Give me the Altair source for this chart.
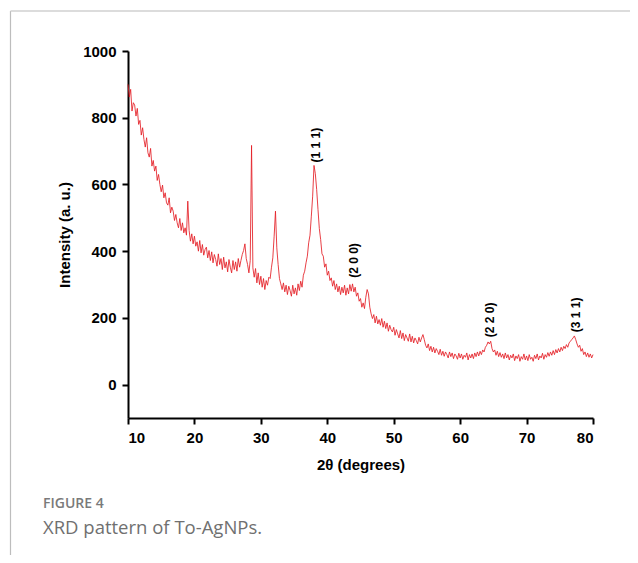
import altair as alt
import pandas as pd

# 2-theta sampling: 10.0 .. 80.0 in 0.2 degree steps
start_deg = 10.0
step_deg = 0.2

seg_10_20 = [900, 862, 885, 820, 845, 838, 805, 828, 780, 792,
             748, 770, 735, 712, 740, 695, 682, 708, 655, 672,
             640, 655, 612, 630, 600, 578, 598, 560, 575, 545,
             538, 560, 515, 532, 520, 492, 510, 485, 470, 498,
             462, 485, 455, 470, 448, 550, 462, 430, 452, 422]
seg_20_30 = [445, 415, 428, 400, 432, 395, 420, 388, 405, 412,
             380, 402, 372, 398, 365, 390, 375, 355, 392, 360,
             378, 345, 382, 350, 368, 338, 375, 352, 335, 372,
             345, 368, 340, 378, 352, 372, 390, 402, 422, 378,
             360, 335, 372, 717, 350, 322, 348, 305, 335, 300]
seg_30_40 = [325, 292, 318, 285, 312, 298, 322, 318, 352, 380,
             445, 520, 410, 360, 318, 302, 285, 305, 278, 298,
             270, 295, 282, 265, 298, 272, 290, 268, 302, 282,
             310, 292, 328, 340, 365, 385, 425, 448, 505, 565,
             657, 632, 585, 525, 468, 435, 392, 385, 352, 362]
seg_40_50 = [328, 340, 312, 320, 295, 312, 285, 302, 278, 295,
             270, 292, 275, 298, 268, 290, 272, 300, 280, 302,
             278, 292, 265, 275, 250, 258, 232, 245, 228, 262,
             285, 272, 232, 212, 198, 210, 185, 205, 182, 195,
             178, 198, 172, 190, 168, 185, 160, 178, 165, 158]
seg_50_60 = [172, 148, 165, 152, 140, 162, 138, 155, 132, 150,
             140, 130, 152, 128, 145, 125, 140, 132, 122, 142,
             128, 140, 150, 135, 118, 110, 122, 102, 115, 98,
             112, 95, 108, 100, 90, 106, 88, 100, 85, 98,
             90, 80, 98, 84, 95, 78, 92, 86, 76, 94]
seg_60_70 = [80, 92, 76, 88, 82, 95, 74, 90, 80, 92,
             78, 95, 84, 98, 86, 100, 90, 104, 98, 112,
             118, 128, 122, 130, 108, 98, 104, 88, 100, 84,
             96, 82, 92, 78, 95, 80, 90, 74, 88, 80,
             92, 72, 86, 78, 90, 70, 84, 76, 92, 74]
seg_70_80 = [86, 72, 90, 76, 82, 70, 88, 78, 92, 74,
             86, 80, 94, 76, 90, 82, 96, 85, 98, 88,
             102, 90, 105, 95, 108, 98, 112, 102, 115, 108,
             120, 112, 125, 130, 135, 140, 146, 135, 122, 112,
             118, 100, 108, 90, 98, 84, 95, 82, 92, 80]
last_point = [90]

intensity = (seg_10_20 + seg_20_30 + seg_30_40 + seg_40_50 +
             seg_50_60 + seg_60_70 + seg_70_80 + last_point)
two_theta = [round(start_deg + step_deg * i, 1) for i in range(len(intensity))]

peak_labels = ["(1 1 1)", "(2 0 0)", "(2 2 0)", "(3 1 1)"]
peak_label_x = [38.25, 44.0, 64.45, 77.4]
peak_label_y = [718, 372, 194, 209]

x_ticks = [10, 20, 30, 40, 50, 60, 70, 80]
y_ticks = [0, 200, 400, 600, 800, 1000]

caption_head = "FIGURE 4"
caption_text = "XRD pattern of To-AgNPs."

df = pd.DataFrame({"theta": two_theta, "intensity": intensity})
lab = pd.DataFrame({"label": peak_labels, "x": peak_label_x, "y": peak_label_y})
one = pd.DataFrame({"k": [0]})

FONT = "Liberation Sans"

x_enc = alt.X("theta:Q", scale=alt.Scale(domain=[10, 80], nice=False, zero=False),
              axis=alt.Axis(values=x_ticks, format="d", title="2θ (degrees)", titlePadding=12))
y_enc = alt.Y("intensity:Q", scale=alt.Scale(domain=[-100, 1000], nice=False, zero=False),
              axis=alt.Axis(values=y_ticks, format="d", title="Intensity (a. u.)", titlePadding=10))

line = alt.Chart(df).mark_line(color="#e41f26", strokeWidth=0.9, opacity=0.95).encode(
    x=x_enc, y=y_enc
)

labels = alt.Chart(lab).mark_text(
    angle=270, font=FONT, fontWeight="bold", fontSize=12, color="black",
    align="center", baseline="middle"
).encode(
    x=alt.X("x:Q"), y=alt.Y("y:Q"), text="label:N"
)

frame_v = alt.Chart(one).mark_rule(color="#bdbdbd", strokeWidth=1.2).encode(
    x=alt.value(-117.5), y=alt.value(-40), y2=alt.value(510)
)
frame_h = alt.Chart(one).mark_rule(color="#d0d0d0", strokeWidth=1.5).encode(
    x=alt.value(-117.5), x2=alt.value(510), y=alt.value(-40)
)

cap1 = alt.Chart(one).mark_text(
    text=caption_head, font="Open Sans", fontWeight=600, fontSize=14,
    color="#7a7a7a", align="left", baseline="alphabetic"
).encode(x=alt.value(-85), y=alt.value(457))

cap2 = alt.Chart(one).mark_text(
    text=caption_text, font="Open Sans", fontSize=18.5,
    color="#707070", align="left", baseline="alphabetic"
).encode(x=alt.value(-85), y=alt.value(483))

chart = alt.layer(frame_v, frame_h, line, labels, cap1, cap2).properties(
    width=465, height=367,
    autosize=alt.AutoSizeParams(type="none"),
    padding={"left": 120, "top": 43, "right": 37, "bottom": 137},
).configure_view(stroke=None).configure_axis(
    grid=False,
    domainColor="black", domainWidth=2,
    tickColor="black", tickWidth=2, tickSize=6,
    labelFont=FONT, labelFontWeight="bold", labelFontSize=15, labelColor="black",
    labelPadding=6,
    titleFont=FONT, titleFontWeight="bold", titleFontSize=15, titleColor="black",
)

chart.save("out.html", embed_options={"renderer": "svg", "actions": False})
